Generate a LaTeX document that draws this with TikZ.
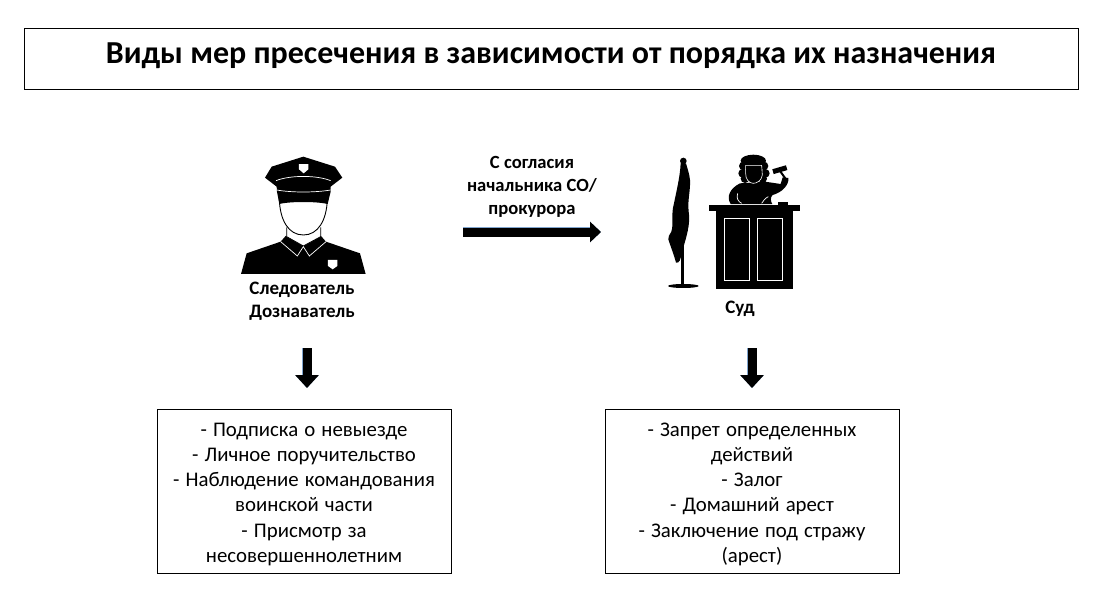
\documentclass[tikz,border=0pt]{standalone}
\usepackage{fontspec}
\setmainfont{Carlito}
\newfontfamily\listfont[WordSpace=1.3]{Carlito}
\usepackage{xcolor}
\usetikzlibrary{arrows.meta, positioning, calc}
\definecolor{arrowedge}{HTML}{4A7EBB}

\begin{document}
\begin{tikzpicture}[
        x=1pt, y=-1pt,
        frame/.style={
            rectangle,
            draw=black,
            line width=0.9pt,
            minimum width=294pt,
            minimum height=164pt,
            inner sep=0pt,
            align=center,
            font=\listfont\fontsize{20.8}{25.3}\selectfont
        },
        caption/.style={
            align=center,
            inner sep=0pt,
            font=\fontsize{19}{23}\selectfont\bfseries
        },
        bigarrow/.style={
            line width=9pt,
            -{Triangle[length=11pt,width=20pt]},
            black,
            preaction={draw=arrowedge!70, line width=10.5pt, -{Triangle[length=11pt,width=20pt]}}
        },
        downarrow/.style={
            line width=9pt,
            -{Triangle[length=13pt,width=23pt]},
            black,
            preaction={draw=arrowedge!70, line width=10.5pt, -{Triangle[length=13pt,width=23pt]}}
        },
        icon/.style={x=0.3333pt, y=-0.3333pt}
    ]
        \useasboundingbox (0,0) rectangle (1105,614);
        \fill[white] (0,0) rectangle (1105,614);

        % Title
        \node[frame, minimum width=1054pt, minimum height=61pt, text depth=11pt, font=\rmfamily\fontsize{32}{36}\selectfont\bfseries] (title) at (551,58.5) {Виды мер пресечения в зависимости от порядка их назначения};

        % Captions
        \node[caption] (investigator) at (302,301) {Следователь\\Дознаватель};
        \node[caption] (court) at (740,309) {Суд};
        \node[caption, font=\fontsize{18.6}{23}\selectfont\bfseries] (consent) at (532,187) {С согласия\\начальника СО/\\прокурора};

        % Lists
        \node[frame] (list_left) at (304,491) {\rule{0pt}{20pt}- Подписка о невыезде\\- Личное поручительство\\- Наблюдение командования\\воинской части\\- Присмотр за\\несовершеннолетним};
        \node[frame] (list_right) at (752,491) {\rule{0pt}{20pt}- Запрет определенных\\действий\\- Залог\\- Домашний арест\\- Заключение под стражу\\(арест)};

        % Arrows
        \coordinate (consent_from) at (463,232);
        \coordinate (consent_to) at (601,232);
        \coordinate (left_from) at (307,348);
        \coordinate (left_to) at (307,388);
        \coordinate (right_from) at (752,348);
        \coordinate (right_to) at (752,388);
        \draw[bigarrow] (consent_from) -- (consent_to);
        \draw[downarrow] (left_from) -- (left_to);
        \draw[downarrow] (right_from) -- (right_to);

        % Officer
        \begin{scope}[shift={(220,140)}, icon]
            \fill (63,402) -- (80,340) -- (182,305) -- (197,288) -- (303,288) -- (318,305) -- (420,340) -- (437,402) -- cycle;
            \fill[white] (200,255) -- (200,290) -- (250,318) -- (302,290) -- (302,255) -- cycle;
            \draw[black, line width=0.8pt] (200,262) -- (200,290) -- (250,318) -- (302,290) -- (302,262);
            \draw[white, line width=0.7pt] (182,305) -- (232,348) -- (250,320) -- (268,348) -- (318,305);
            \fill[white] (324,360) -- (352,360) -- (352,378) -- (338,388) -- (324,378) -- cycle;
            \filldraw[fill=white, draw=black, line width=0.9pt] (178,178) .. controls (180,240) and (205,285) .. (250,285) .. controls (295,285) and (320,240) .. (322,178) -- cycle;
            \fill (135,113) -- (155,80) -- (250,50) -- (345,80) -- (367,113) -- (332,140) -- (332,155) -- (323,192) .. controls (290,184) and (210,184) .. (178,192) -- (171,155) -- (170,140) -- cycle;
            \draw[white, line width=0.7pt] (168,122) .. controls (210,105) and (290,105) .. (332,122);
            \draw[white, line width=0.7pt] (170,150) .. controls (215,158) and (285,158) .. (332,150);
            \fill[white] (237,72) -- (265,72) -- (265,88) -- (251,100) -- (237,88) -- cycle;
        \end{scope}

        % Judge
        \begin{scope}[shift={(650,140)}, icon]
            \fill (93,60) rectangle (102,432);
            \fill (100,63) circle[radius=10];
            \fill (100,438) ellipse[x radius=46, y radius=6];
            \fill (92,70) .. controls (90,110) and (80,150) .. (72,190) .. controls (62,225) and (72,250) .. (64,275) .. controls (60,285) and (52,290) .. (55,298) .. controls (62,320) and (72,345) .. (78,368) .. controls (88,370) and (92,360) .. (96,335) .. controls (110,290) and (122,250) .. (116,215) .. controls (112,180) and (122,150) .. (120,120) .. controls (118,100) and (112,85) .. (108,70) -- cycle;
            % desk
            \fill (177,196) rectangle (449,212);
            \fill (197,212) rectangle (430,446);
            \fill (385,187) rectangle (415,196);
            \filldraw[fill=black, draw=white, line width=1pt] (222,237) rectangle (297,423);
            \filldraw[fill=black, draw=white, line width=1pt] (324,237) rectangle (399,423);
            % judge body
            \fill (242,192) .. controls (228,170) and (240,145) .. (270,130) -- (345,125) -- (392,132) -- (398,112) -- (415,114) .. controls (418,135) and (395,158) .. (368,165) .. controls (360,172) and (362,185) .. (367,192) -- cycle;
            \draw[white, line width=0.7pt] (263,160) .. controls (258,175) and (265,185) .. (275,190);
            \draw[white, line width=0.7pt] (335,190) .. controls (340,182) and (345,175) .. (355,170);
            % gavel
            \draw[line width=2pt] (388,90) -- (408,118);
            \draw[line width=5pt] (369,95) -- (410,83);
            % wig
            \fill (310,62) ellipse[x radius=38, y radius=18];
            \foreach \wigx/\wigy in {280/78, 278/100, 285/116, 342/78, 346/100, 338/116} {
                \fill (\wigx,\wigy) circle[radius=13];
            }
            \filldraw[fill=black, draw=white, line width=0.6pt] (287,76) -- (335,76) -- (337,105) .. controls (335,122) and (320,130) .. (310,130) .. controls (298,130) and (286,118) .. (287,100) -- cycle;
        \end{scope}
    \end{tikzpicture}
\end{document}
